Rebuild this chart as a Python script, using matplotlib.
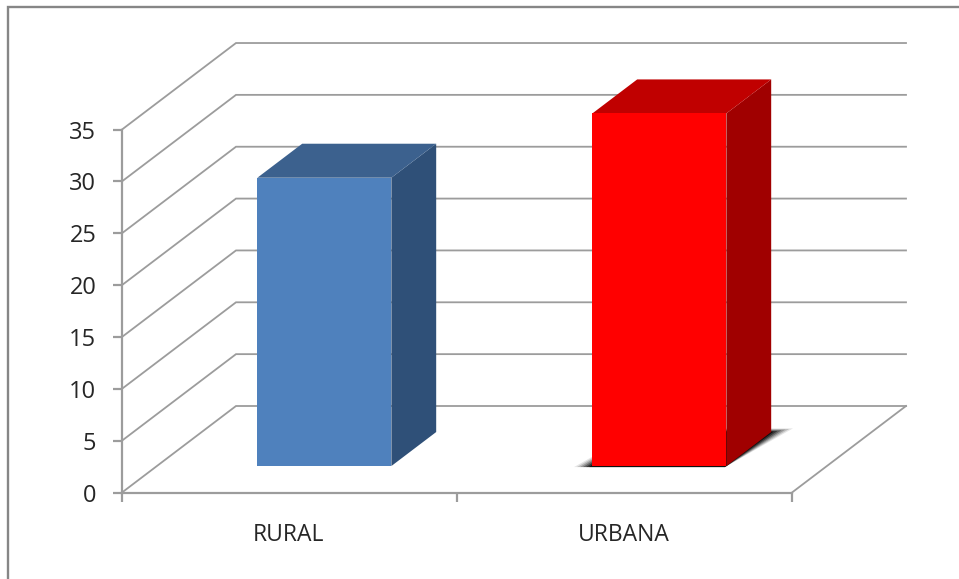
import matplotlib
matplotlib.use("Agg")
import matplotlib.pyplot as plt
from matplotlib.lines import Line2D
from matplotlib.patches import Polygon

# Data
categories = ["RURAL", "URBANA"]
values = [27.8, 34.0]
y_ticks = [0, 5, 10, 15, 20, 25, 30, 35]

# Style
front_colors = ["#4f81bd", "#ff0000"]
top_colors = ["#3c618e", "#c00000"]
side_colors = ["#2f5078", "#a00000"]
line_color = "#9c9c9c"
frame_color = "#868686"
text_color = "#262626"

W, H, DPI = 959, 579, 100
X0_PX, UNIT_X = 122.0, 335.0
Y0_PX, UNIT_Y = 492.5, 10.371
DX, DY = 114.0 / UNIT_X, 86.5 / UNIT_Y
BAR_W = 134.0 / UNIT_X
D_FRONT, D_BACK = 0.306, 0.699

fig = plt.figure(figsize=(W / DPI, H / DPI), dpi=DPI, facecolor="white")
ax = fig.add_axes([0, 0, 1, 1], facecolor="none")
ax.set_xlim(-X0_PX / UNIT_X, (W - X0_PX) / UNIT_X)
ax.set_ylim((Y0_PX - H) / UNIT_Y, Y0_PX / UNIT_Y)


def proj(x, y, d):
    return (x + d * DX, y + d * DY)


n = len(categories)
LW = 1.3

# Gridlines: side wall + back wall, floor outline
for t in y_ticks:
    pts = [proj(0, t, 0), proj(0, t, 1), proj(n, t, 1)]
    ax.plot(*zip(*pts), color=line_color, lw=LW, zorder=1, solid_joinstyle="miter")
pts = [proj(n, 0, 0), proj(n, 0, 1)]
ax.plot(*zip(*pts), color=line_color, lw=LW, zorder=1)

# Real axes
for s in ["top", "right"]:
    ax.spines[s].set_visible(False)
ax.spines["left"].set_position(("data", 0))
ax.spines["bottom"].set_position(("data", 0))
ax.spines["left"].set_bounds(0, y_ticks[-1])
ax.spines["bottom"].set_bounds(0, n)
for s in ["left", "bottom"]:
    ax.spines[s].set_color(line_color)
    ax.spines[s].set_linewidth(1.6)
font = ["Open Sans", "DejaVu Sans"]
ax.set_yticks(y_ticks)
ax.set_yticklabels([str(t) for t in y_ticks], family=font, fontsize=17, color=text_color)
ax.set_xticks(list(range(n + 1)))
ax.set_xticklabels([""] * (n + 1))
ax.tick_params(axis="both", color=line_color, width=1.6, length=6.5)
ax.tick_params(axis="y", pad=12)

# Shadow below the second bar (soft layered polygons)
i_sh = 1
c = i_sh + 0.5
xl, xr = c - BAR_W / 2, c + BAR_W / 2
for grow, a in [(17, 0.10), (14, 0.16), (11, 0.22), (8, 0.32), (5, 0.45), (2, 0.7)]:
    g = grow / UNIT_X
    e = grow * 0.0025
    quad = [proj(xl - g, 0, D_FRONT - 0.012), proj(xr, 0, D_FRONT - 0.012),
            proj(xr + g, 0, D_BACK + e), proj(xl, 0, D_BACK + e)]
    ax.add_patch(Polygon(quad, closed=True, facecolor="#000000", edgecolor="none", alpha=a, zorder=2))

# Bars
for i, (v, fc, tc, sc) in enumerate(zip(values, front_colors, top_colors, side_colors)):
    c = i + 0.5
    xl, xr = c - BAR_W / 2, c + BAR_W / 2
    front = [proj(xl, 0, D_FRONT), proj(xr, 0, D_FRONT), proj(xr, v, D_FRONT), proj(xl, v, D_FRONT)]
    top = [proj(xl, v, D_FRONT), proj(xr, v, D_FRONT), proj(xr, v, D_BACK), proj(xl, v, D_BACK)]
    side = [proj(xr, 0, D_FRONT), proj(xr, 0, D_BACK), proj(xr, v, D_BACK), proj(xr, v, D_FRONT)]
    ax.add_patch(Polygon(side, closed=True, facecolor=sc, edgecolor="none", zorder=3))
    ax.add_patch(Polygon(top, closed=True, facecolor=tc, edgecolor="none", zorder=3))
    ax.add_patch(Polygon(front, closed=True, facecolor=fc, edgecolor="none", zorder=4))
    ax.annotate(categories[i], xy=(c, 0), xytext=(-0.5, -30.5), textcoords="offset points",
                ha="center", va="center", family=font, fontsize=16.5, color=text_color)

# Outer frame (left and top edges of the chart area)
fx = 8.0 / W
fy = 1 - 7.0 / H
fig.add_artist(Line2D([fx, fx, 1], [0, fy, fy], transform=fig.transFigure,
                      color=frame_color, lw=1.7, solid_joinstyle="miter"))

fig.savefig("out.png", dpi=DPI, facecolor="white")
